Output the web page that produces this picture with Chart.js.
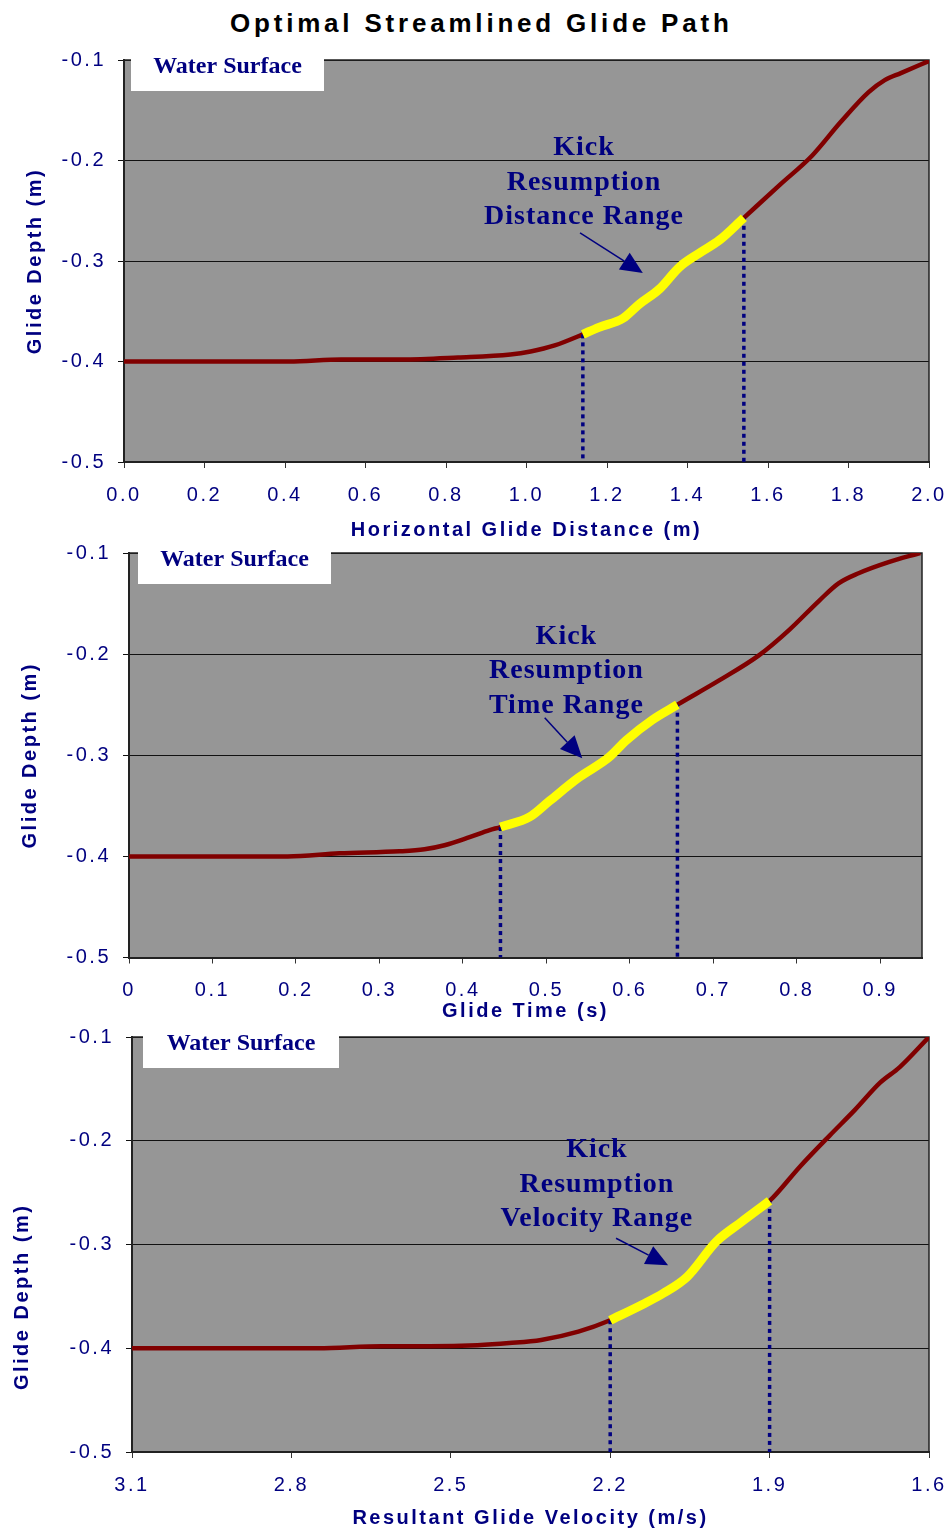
<!DOCTYPE html>
<html>
<head>
<meta charset="utf-8">
<script src="https://cdn.jsdelivr.net/npm/chart.js@4.4.1/dist/chart.umd.min.js"></script>
<style>
    body { margin: 0; background: #fff; width: 951px; height: 1533px; position: relative; overflow: hidden; }
    #title { position: absolute; left: 230px; top: 8px; font: bold 26px "Liberation Sans", Arial, sans-serif; letter-spacing: 3.8px; line-height: 30px; color: #000; white-space: nowrap; }
    canvas { position: absolute; left: 0; }
</style>
</head>
<body>
<div id="title">Optimal Streamlined Glide Path</div>
<canvas id="distChart" width="951" height="510" style="top:40px;width:951px;height:510px"></canvas>
<canvas id="timeChart" width="951" height="510" style="top:520px;width:951px;height:510px"></canvas>
<canvas id="velChart" width="951" height="533" style="top:1000px;width:951px;height:533px"></canvas>
<script>
// glide depth vs horizontal distance (m)
const distX = [0, 0.2, 0.41, 0.54, 0.69, 0.83, 0.96, 1.01, 1.07, 1.14, 1.18, 1.24, 1.28, 1.33, 1.38, 1.43, 1.48, 1.54, 1.63, 1.71, 1.78, 1.85, 1.89, 1.93, 2.0];
const distY = [-0.400, -0.400, -0.400, -0.398, -0.398, -0.396, -0.393, -0.390, -0.384, -0.373, -0.366, -0.357, -0.343, -0.328, -0.306, -0.292, -0.279, -0.257, -0.224, -0.195, -0.162, -0.132, -0.120, -0.113, -0.101];
const distKick = [1.14, 1.54];

// glide depth vs time (s)
const timeX = [0, 0.1, 0.19, 0.252, 0.324, 0.354, 0.378, 0.408, 0.432, 0.445, 0.48, 0.504, 0.539, 0.575, 0.596, 0.627, 0.657, 0.707, 0.755, 0.791, 0.827, 0.85, 0.874, 0.91, 0.948];
const timeY = [-0.400, -0.400, -0.400, -0.397, -0.395, -0.393, -0.389, -0.381, -0.374, -0.371, -0.361, -0.345, -0.322, -0.302, -0.285, -0.265, -0.250, -0.226, -0.201, -0.176, -0.147, -0.130, -0.120, -0.109, -0.100];
const timeKick = [0.445, 0.657];

// glide depth vs resultant velocity (m/s)
const velX = [3.1, 2.95, 2.75, 2.63, 2.54, 2.45, 2.39, 2.33, 2.26, 2.2, 2.14, 2.1, 2.055, 2.0, 1.955, 1.9, 1.843, 1.787, 1.739, 1.692, 1.655, 1.6];
const velY = [-0.400, -0.400, -0.400, -0.398, -0.398, -0.397, -0.395, -0.392, -0.384, -0.373, -0.358, -0.347, -0.331, -0.297, -0.279, -0.258, -0.225, -0.195, -0.170, -0.144, -0.129, -0.100];
const velKick = [2.2, 1.9];

const depthTicks = { min: -0.5, max: -0.1, step: 0.1 };

Chart.defaults.font.family = '"Liberation Sans", Arial, sans-serif';

const framePlugin = {
    id: 'frame',
    beforeDraw(chart) {
        const { ctx, chartArea: a } = chart;
        ctx.letterSpacing = '2.5px';
        ctx.save();
        ctx.fillStyle = '#969696';
        ctx.fillRect(a.left, a.top, a.right - a.left, a.bottom - a.top);
        ctx.restore();
    },
    beforeDatasetsDraw(chart) {
        const { ctx, chartArea: a } = chart;
        ctx.save();
        ctx.strokeStyle = '#222';
        ctx.lineWidth = 1.5;
        ctx.beginPath();
        ctx.moveTo(a.left, a.top);
        ctx.lineTo(a.right, a.top);
        ctx.lineTo(a.right, a.bottom);
        ctx.stroke();
        ctx.restore();
    },
    afterDatasetsDraw(chart, args, opts) {
        const { ctx, chartArea: a, scales } = chart;
        const px = v => scales.x.getPixelForValue(v);
        const py = v => scales.y.getPixelForValue(v);
        ctx.save();
        ctx.letterSpacing = '0px';

        // water surface box
        ctx.fillStyle = '#fff';
        ctx.fillRect(a.left + opts.boxLeft, a.top - 3, opts.boxWidth, 34);
        ctx.fillStyle = '#000080';
        ctx.font = 'bold 24px "Liberation Serif", "Times New Roman", serif';
        ctx.textAlign = 'center';
        ctx.textBaseline = 'alphabetic';
        ctx.fillText('Water Surface', a.left + opts.boxLeft + opts.boxWidth / 2, a.top + 13);

        // kick resumption label
        ctx.letterSpacing = '1px';
        ctx.font = 'bold 28px "Liberation Serif", "Times New Roman", serif';
        ctx.textBaseline = 'middle';
        const lx = px(opts.labelAt[0]), ly = py(opts.labelAt[1]);
        opts.lines.forEach((t, i) => ctx.fillText(t, lx, ly + i * 34.3));

        // arrow
        const x0 = px(opts.arrowFrom[0]), y0 = py(opts.arrowFrom[1]);
        const x1 = px(opts.arrowTo[0]), y1 = py(opts.arrowTo[1]);
        const ang = Math.atan2(y1 - y0, x1 - x0);
        const hl = 22, hw = 10;
        const bx = x1 - hl * Math.cos(ang), by = y1 - hl * Math.sin(ang);
        ctx.strokeStyle = '#000080';
        ctx.lineWidth = 1.5;
        ctx.beginPath();
        ctx.moveTo(x0, y0);
        ctx.lineTo(bx, by);
        ctx.stroke();
        ctx.beginPath();
        ctx.moveTo(x1, y1);
        ctx.lineTo(bx + hw * Math.sin(ang), by - hw * Math.cos(ang));
        ctx.lineTo(bx - hw * Math.sin(ang), by + hw * Math.cos(ang));
        ctx.closePath();
        ctx.fill();
        ctx.restore();
    }
};

function glideChart(canvasId, o) {
    const pts = o.xs.map((x, i) => ({ x: x, y: o.ys[i] }));
    const lo = Math.min(...o.kick), hi = Math.max(...o.kick);
    const kick = pts.filter(p => p.x >= lo - 1e-9 && p.x <= hi + 1e-9);
    const drop = v => {
        const p = pts.find(q => Math.abs(q.x - v) < 1e-6);
        return [{ x: v, y: p.y }, { x: v, y: depthTicks.min }];
    };
    const dotted = { borderColor: '#000080', borderWidth: 3.5, borderDash: [4, 4], tension: 0, cubicInterpolationMode: 'default', order: 1 };

    return new Chart(document.getElementById(canvasId), {
        type: 'line',
        data: {
            datasets: [
                { data: kick, borderColor: '#ffff00', borderWidth: 9, order: 0 },
                Object.assign({ data: drop(o.kick[0]) }, dotted),
                Object.assign({ data: drop(o.kick[1]) }, dotted),
                { data: pts, borderColor: '#800000', borderWidth: 4.5, order: 2 }
            ]
        },
        options: {
            responsive: false,
            animation: false,
            events: [],
            layout: { padding: { top: o.padTop, right: o.padRight, bottom: 0, left: 0 } },
            elements: {
                point: { radius: 0 },
                line: { cubicInterpolationMode: 'monotone', fill: false }
            },
            plugins: {
                legend: { display: false },
                tooltip: { enabled: false },
                frame: o.note
            },
            scales: {
                x: {
                    type: 'linear',
                    min: o.xMin,
                    max: o.xMax,
                    reverse: !!o.reverse,
                    afterFit: s => { s.height = o.xHeight; s.paddingLeft = 0; s.paddingRight = 0; },
                    ticks: {
                        stepSize: o.xStep,
                        includeBounds: false,
                        autoSkip: false,
                        maxRotation: 0,
                        padding: 15,
                        color: '#000080',
                        font: { size: 20 },
                        callback: o.xFormat
                    },
                    grid: { drawOnChartArea: false, tickLength: 6, color: '#333' },
                    border: { color: '#222', width: 2 },
                    title: {
                        display: true,
                        text: o.xTitle,
                        color: '#000080',
                        font: { size: 20, weight: 'bold' },
                        padding: { top: 0, bottom: o.xTitlePad }
                    }
                },
                y: {
                    min: depthTicks.min,
                    max: depthTicks.max,
                    afterFit: s => { s.width = o.yWidth; s.paddingTop = 0; s.paddingBottom = 0; },
                    ticks: {
                        stepSize: depthTicks.step,
                        padding: 12,
                        color: '#000080',
                        font: { size: 20 },
                        callback: v => v.toFixed(1)
                    },
                    grid: { color: '#111', tickLength: 6 },
                    border: { color: '#222', width: 2 },
                    title: {
                        display: true,
                        text: o.yTitle,
                        color: '#000080',
                        font: { size: 20, weight: 'bold' },
                        padding: { top: o.yTitlePad, bottom: 0 }
                    }
                }
            }
        },
        plugins: [framePlugin]
    });
}

glideChart('distChart', {
    xs: distX, ys: distY, kick: distKick,
    xMin: 0, xMax: 2, xStep: 0.2, xFormat: v => v.toFixed(1),
    xTitle: 'Horizontal Glide Distance (m)', yTitle: 'Glide Depth (m)',
    padTop: 20, padRight: 22, xHeight: 88, yWidth: 124, xTitlePad: 8, yTitlePad: 23,
    note: {
        boxLeft: 7, boxWidth: 193,
        lines: ['Kick', 'Resumption', 'Distance Range'],
        labelAt: [1.143, -0.1876],
        arrowFrom: [1.133, -0.272], arrowTo: [1.289, -0.312]
    }
});

glideChart('timeChart', {
    xs: timeX, ys: timeY, kick: timeKick,
    xMin: 0, xMax: 0.95, xStep: 0.1, xFormat: v => String(Math.round(v * 10) / 10),
    xTitle: 'Glide Time (s)', yTitle: 'Glide Depth (m)',
    padTop: 33, padRight: 29, xHeight: 72.5, yWidth: 129, xTitlePad: 7, yTitlePad: 18,
    note: {
        boxLeft: 9, boxWidth: 193,
        lines: ['Kick', 'Resumption', 'Time Range'],
        labelAt: [0.524, -0.183],
        arrowFrom: [0.498, -0.263], arrowTo: [0.543, -0.303]
    }
});

glideChart('velChart', {
    xs: velX, ys: velY, kick: velKick,
    xMin: 1.6, xMax: 3.1, xStep: 0.3, reverse: true, xFormat: v => v.toFixed(1),
    xTitle: 'Resultant Glide Velocity (m/s)', yTitle: 'Glide Depth (m)' + ' '.repeat(13),
    padTop: 37, padRight: 22, xHeight: 81, yWidth: 132, xTitlePad: 3, yTitlePad: 10,
    note: {
        boxLeft: 11, boxWidth: 196,
        lines: ['Kick', 'Resumption', 'Velocity Range'],
        labelAt: [2.225, -0.209],
        arrowFrom: [2.189, -0.294], arrowTo: [2.091, -0.320]
    }
});
</script>
</body>
</html>
